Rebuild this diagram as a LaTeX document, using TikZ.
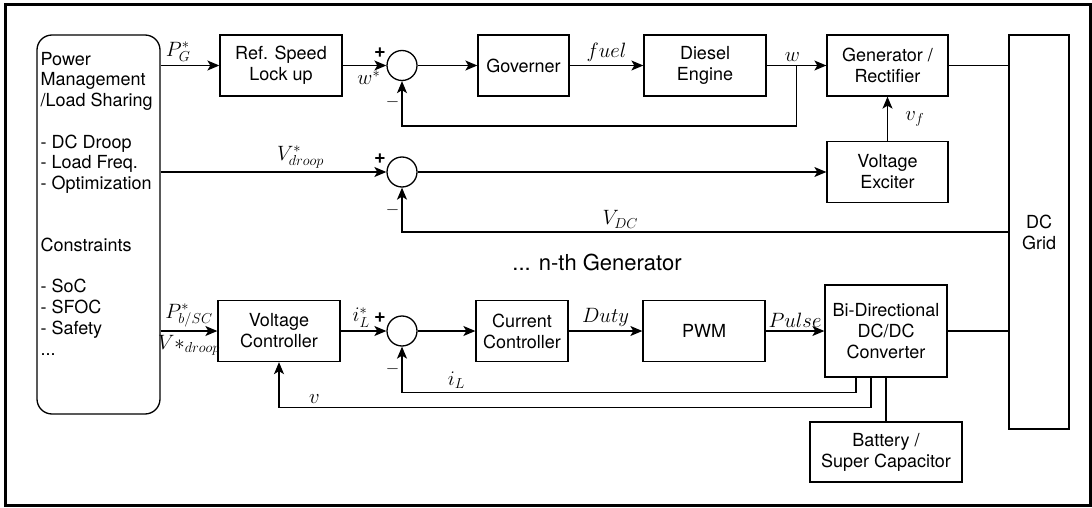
\documentclass[tikz,border=0pt]{standalone}
\usepackage{fontspec}
\setmainfont{TeX Gyre Heros}
\usetikzlibrary{arrows.meta, positioning, calc}

\begin{document}
\begin{tikzpicture}[x=1pt, y=-1pt, line width=1.3pt,
    blk/.style={rectangle, draw, minimum height=61pt, align=center, inner sep=2pt,
                font=\fontsize{18}{21}\selectfont},
    sum/.style={circle, draw, minimum size=30pt, inner sep=0pt},
    arr/.style={-{Stealth[length=12pt, width=10pt, inset=3pt]}},
    lbl/.style={font=\fontsize{22}{24}\selectfont},
    sgn/.style={font=\fontsize{20}{20}\selectfont\bfseries, inner sep=0pt},
    mns/.style={font=\fontsize{16}{16}\selectfont, inner sep=2pt},
  ]
    \useasboundingbox (0,0) rectangle (1092,508);
    \draw[line width=3pt] (5,4.5) rectangle (1090,505);

    \node[draw, rounded corners=15pt, minimum width=123pt, minimum height=379pt] (pm) at (98.5,224.5) {};
    \node[anchor=north west, align=left, inner sep=0pt, font=\fontsize{18}{20.7}\selectfont] (pmtxt) at (40,51.5)
      {Power\\Management\\/Load Sharing\\[20.7pt]- DC Droop\\- Load Freq.\\- Optimization\\[41.4pt]%
       Constraints\\[20.7pt]- SoC\\- SFOC\\- Safety\\...};

    \node[blk, minimum width=122pt] (rsl) at (281,65.5) {Ref. Speed\\Lock up};
    \node[sum] (s1) at (402,65.5) {};
    \node[blk, minimum width=91pt] (gov) at (523.5,65.5) {Governer};
    \node[blk, minimum width=122pt] (eng) at (705,65.5) {Diesel\\Engine};
    \node[blk, minimum width=121pt] (gen) at (887.5,65.5) {Generator /\\Rectifier};
    \node[blk, minimum width=121pt] (exc) at (887.5,172) {Voltage\\Exciter};
    \node[sum] (s2) at (402,172) {};
    \node[blk, minimum width=60pt, minimum height=394pt] (grid) at (1039,232) {DC\\Grid};
    \node[font=\fontsize{22}{26}\selectfont] (nth) at (597,262) {... n-th Generator};

    \node[blk, minimum width=122pt] (vc) at (279,331) {Voltage\\Controller};
    \node[sum] (s3) at (402,331) {};
    \node[blk, minimum width=92pt] (cc) at (522,331) {Current\\Controller};
    \node[blk, minimum width=122pt] (pwm) at (704,331) {PWM};
    \node[blk, minimum width=122pt, minimum height=92pt] (bdc) at (886,331) {Bi-Directional\\DC/DC\\Converter};
    \node[blk, minimum width=152pt, minimum height=60pt] (bat) at (886,452) {Battery /\\Super Capacitor};

    \node[sgn] (p1) at ($(s1)+(-22,-13)$) {+};
    \node[sgn] (p2) at ($(s2)+(-22,-13)$) {+};
    \node[sgn] (p3) at ($(s3)+(-22,-13)$) {+};

    \coordinate (wtap) at ($(eng.east)!0.5!(gen.west)$);

    \draw[arr] (pm.east |- rsl.west) -- (rsl) node[pos=0.3, above, lbl] {$P_G^*$};
    \draw[arr] (rsl) -- (s1) node[pos=0.6, below=1pt, lbl] {$w^*$};
    \draw[arr] (s1) -- (gov);
    \draw[arr] (gov) -- (eng) node[midway, above, lbl] {$fuel$};
    \draw[arr] (eng) -- (gen) node[pos=0.43, above, lbl] {$w$};
    \draw[arr] (wtap) -- ++(0,60.5) -| (s1.south) node[pos=0.76, left, mns] {$-$};
    \draw (gen) -- (gen -| grid.west);
    \draw[arr] (exc) -- (gen) node[midway, right=14pt, lbl] {$v_f$};

    \draw[arr] (pm.east |- s2) -- (s2) node[pos=0.62, above, lbl] {$V^*_{droop}$};
    \draw[arr] (s2) -- (exc);
    \draw[arr] (grid.west |- 0,232) -| (s2.south) node[pos=0.32, above, lbl] {$V_{DC}$}
      node[pos=0.75, left, mns] {$-$};

    \draw[arr] (pm.east |- vc) -- (vc) node[midway, above, lbl] {$P^*_{b/SC}$}
      node[midway, below, lbl] {$V{*}_{droop}$};
    \draw[arr] (vc) -- (s3) node[pos=0.45, above, lbl] {$i^*_L$};
    \draw[arr] (s3) -- (cc);
    \draw[arr] (cc) -- (pwm) node[midway, above, lbl] {$Duty$};
    \draw[arr] (pwm) -- (bdc) node[midway, above, lbl] {$Pulse$};
    \draw (bdc) -- (bdc -| grid.west);
    \draw (bdc) -- (bat);
    \draw[arr] ([xshift=-30pt]bdc.south) -- ++(0,15) -| (s3.south)
      node[pos=0.44, above, lbl] {$i_L$} node[pos=0.76, left, mns] {$-$};
    \draw[arr] ([xshift=-15pt]bdc.south) -- ++(0,30) -| (vc.south)
      node[pos=0.47, above, lbl] {$v$};
  \end{tikzpicture}
\end{document}
